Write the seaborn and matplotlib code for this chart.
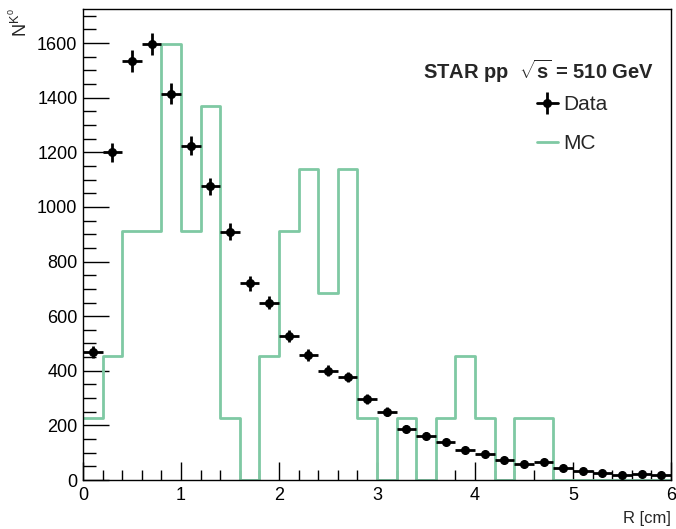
import numpy as np
import pandas as pd
import matplotlib
matplotlib.use("Agg")
import matplotlib.pyplot as plt
from matplotlib.ticker import MultipleLocator
from matplotlib.lines import Line2D
from matplotlib.legend_handler import HandlerTuple
import seaborn as sns

# ---- data ----
bin_edges = [round(0.2 * i, 1) for i in range(31)]
bin_centers = [round(0.1 + 0.2 * i, 1) for i in range(30)]
data_counts = [470, 1200, 1535, 1597, 1415, 1225, 1075, 910, 720, 650,
               527, 458, 400, 377, 297, 250, 188, 162, 140, 110,
               95, 75, 60, 65, 45, 33, 27, 17, 22, 17]
data_errors = [21.7, 34.6, 39.2, 40.0, 37.6, 35.0, 32.8, 30.2, 26.8, 25.5,
               23.0, 21.4, 20.0, 19.4, 17.2, 15.8, 13.7, 12.7, 11.8, 10.5,
               9.7, 8.7, 7.7, 8.1, 6.7, 5.7, 5.2, 4.1, 4.7, 4.1]
mc_counts = [228, 456, 912, 912, 1596, 912, 1368, 228, 0, 456,
             912, 1140, 684, 1140, 228, 0, 228, 0, 228, 456,
             228, 0, 228, 228, 0, 0, 0, 0, 0, 0]
title_text = r"STAR pp  $\sqrt{\mathbf{s}}$ = 510 GeV"

MC_COLOR = "#7fc9a3"

sns.set_theme(style="white")
plt.rcParams['font.family'] = ['Liberation Sans', 'DejaVu Sans']
plt.rcParams['mathtext.fontset'] = 'custom'
plt.rcParams['mathtext.rm'] = 'Liberation Sans'
plt.rcParams['mathtext.it'] = 'Liberation Sans'
plt.rcParams['mathtext.bf'] = 'Liberation Sans:bold'

fig = plt.figure(figsize=(6.76, 5.29), dpi=100)
ax = fig.add_axes([0.1228, 0.0926, 0.8698, 0.8904])

mc_df = pd.DataFrame({"R": bin_centers, "N": mc_counts})
sns.histplot(data=mc_df, x="R", weights="N", bins=bin_edges, element="step",
             fill=False, color=MC_COLOR, linewidth=2, ax=ax)

ax.errorbar(bin_centers, data_counts, xerr=0.1, yerr=data_errors, fmt='o',
            color='black', markersize=5.5, elinewidth=2, capsize=0, zorder=5)

ax.set_xlim(0, 6)
ax.set_ylim(0, 1725)
ax.xaxis.set_major_locator(MultipleLocator(1))
ax.xaxis.set_minor_locator(MultipleLocator(0.2))
ax.yaxis.set_major_locator(MultipleLocator(200))
ax.yaxis.set_minor_locator(MultipleLocator(50))
ax.tick_params(axis='both', which='both', direction='in', top=False, right=False,
               bottom=True, left=True, labelsize=13, colors='black')
ax.tick_params(axis='y', which='major', length=19, width=1, pad=4)
ax.tick_params(axis='y', which='minor', length=9, width=1)
ax.tick_params(axis='x', which='major', length=13, width=1, pad=5)
ax.tick_params(axis='x', which='minor', length=7, width=1)
for s in ax.spines.values():
    s.set_color('black')
    s.set_linewidth(1)

ax.set_xlabel("")
ax.set_ylabel("")
fig.text(0.993, 0.005, "R [cm]", ha='right', va='bottom', fontsize=12)
fig.text(0.03, 0.985, r"N$^{K^{0}}$", ha='center', va='top', rotation=90, fontsize=13)

ax.text(0.972, 0.867, title_text, transform=ax.transAxes, ha='right', va='center',
        fontsize=14.5, fontweight='bold')

data_handle = (Line2D([0], [0], color='black', marker='o', markersize=5.5, linewidth=2),
               Line2D([0], [0], color='black', marker='|', markersize=16,
                      markeredgewidth=2, linestyle='none'))
mc_handle = Line2D([0], [0], color=MC_COLOR, linewidth=2)
leg = ax.legend([data_handle, mc_handle], ["Data", "MC"], loc='center left',
                bbox_to_anchor=(0.74, 0.756), frameon=False, fontsize=15,
                handlelength=1.0, handletextpad=0.25, labelspacing=0.95,
                handler_map={tuple: HandlerTuple(ndivide=1)})

fig.savefig("out.png", dpi=100, facecolor='white')
